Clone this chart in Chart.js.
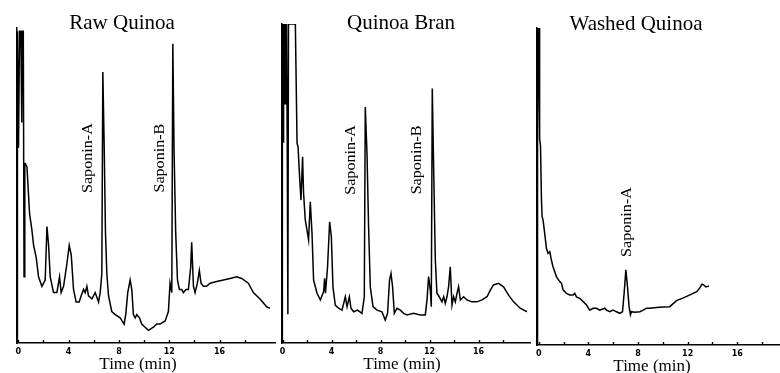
<!DOCTYPE html>
<html>
<head>
<meta charset="utf-8">
<title>Quinoa saponin chromatograms</title>
<script src="https://cdn.jsdelivr.net/npm/chart.js@4.4.1/dist/chart.umd.min.js"></script>
<style>
    body { margin: 0; background: #fff; }
    #wrap { position: relative; width: 780px; height: 373px; }
    #wrap canvas { position: absolute; left: 0; top: 0; }
</style>
</head>
<body>
<div id="wrap">
    <canvas id="rawChart" width="780" height="373"></canvas>
    <canvas id="branChart" width="780" height="373"></canvas>
    <canvas id="washedChart" width="780" height="373"></canvas>
</div>
<script>
// Tick values on the time axis (minutes), only every 4 min gets a label
var tickValues = [0, 2, 4, 6, 8, 10, 12, 14, 16, 18];
var tickLabels = ['0', '', '4', '', '8', '', '12', '', '16', ''];

// Raw Quinoa trace (time in min, detector response 0-100)
var rawTime = [-0.1, -0.09, -0.04, 0.02, 0.1, 0.2, 0.28, 0.32, 0.4, 0.46, 0.52, 0.56, 0.69, 0.9, 1.08, 1.22, 1.43, 1.61, 1.88, 2.14,
    2.28, 2.41, 2.54, 2.8, 3.07, 3.28, 3.41, 3.6, 3.86, 4.05, 4.21, 4.39, 4.6, 4.84, 5.0, 5.19, 5.32, 5.45, 5.58, 5.85,
    6.11, 6.38, 6.51, 6.64, 6.72, 6.83, 6.93, 7.04, 7.17, 7.43, 7.7, 8.1, 8.41, 8.54, 8.7, 8.89, 9.02, 9.15, 9.29, 9.42,
    9.63, 9.81, 10.08, 10.34, 10.74, 11.0, 11.27, 11.67, 11.93, 12.06, 12.2, 12.28, 12.38, 12.51, 12.65, 12.8, 12.99, 13.12, 13.33, 13.52,
    13.7, 13.78, 13.92, 14.05, 14.23, 14.39, 14.52, 14.71, 14.97, 15.24, 15.77, 16.3, 16.83, 17.35, 17.75, 18.28, 18.68, 19.21, 19.74, 20.0];
var rawSignal = [0, 99, 99, 62, 99, 99, 70, 99, 99, 21, 57, 57, 56, 41, 36, 31, 27, 21, 18, 20,
    37, 31, 21, 16, 16, 21, 16, 18, 25, 31, 28, 17, 13, 13, 15, 17, 16, 18, 15, 14,
    16, 13, 16, 22, 86, 62, 35, 22, 15, 10, 9, 8, 6, 9, 16, 20, 17, 9, 8, 9,
    8, 6, 5, 4, 5, 6, 6, 7, 10, 19, 16, 95, 61, 35, 20, 17, 17, 16, 17, 17,
    24, 32, 18, 16, 19, 23, 19, 18, 18, 19, 19.5, 20, 20.5, 21, 20.5, 19, 16, 14, 11.5, 11];

// Quinoa Bran trace
var branTime = [-0.05, -0.04, 0.0, 0.04, 0.08, 0.15, 0.2, 0.26, 0.32, 0.38, 0.43, 0.48, 1.04, 1.18, 1.26, 1.39, 1.5, 1.63, 1.71, 1.85,
    1.99, 2.12, 2.26, 2.4, 2.53, 2.81, 3.08, 3.35, 3.43, 3.5, 3.67, 3.84, 3.98, 4.11, 4.3, 4.57, 4.85, 5.12, 5.26, 5.45,
    5.58, 5.8, 6.12, 6.48, 6.67, 6.75, 6.89, 7.02, 7.16, 7.38, 7.71, 8.11, 8.38, 8.57, 8.73, 8.85, 8.98, 9.12, 9.34, 9.61,
    9.88, 10.16, 10.69, 11.24, 11.65, 11.79, 11.92, 12.06, 12.14, 12.22, 12.33, 12.47, 12.6, 12.79, 13.01, 13.15, 13.28, 13.42, 13.55, 13.69,
    13.83, 13.96, 14.1, 14.24, 14.37, 14.51, 14.78, 15.05, 15.46, 15.87, 16.28, 16.69, 16.96, 17.22, 17.63, 18.04, 18.45, 18.86, 19.4, 19.95];
var branSignal = [0, 100, 100, 63, 100, 100, 75, 100, 100, 60, 9, 100, 100, 62.6, 61.5, 52, 44.8, 58.4, 47, 38.6,
    35.4, 32.3, 44.3, 34.4, 19.7, 15.6, 13.5, 16.1, 20.3, 15.6, 23.9, 38, 33.3, 17.6, 11.9, 10.9, 10.3, 14.5, 11.4, 14.5,
    10.9, 9.8, 10.3, 9.3, 14.5, 74, 59.5, 36.5, 17.6, 11.4, 10.3, 9.8, 7.2, 9.3, 19.7, 21.8, 17.6, 9.3, 10.9, 10.3,
    9.3, 8.8, 9.3, 8.8, 8.8, 13.5, 20.8, 16.6, 11.4, 79.8, 55.3, 26, 15.6, 14.5, 12.9, 14.5, 12.4, 14.5, 17.6, 23.9,
    11.9, 14.5, 12.9, 15.6, 17.6, 13.5, 14.5, 13.5, 12.9, 12.9, 13.5, 14.5, 16.6, 18.2, 18.7, 17.6, 15, 12.9, 10.9, 9.8];

// Washed Quinoa trace
var washedTime = [-0.14, -0.13, -0.1, -0.06, -0.02, 0.03, 0.06, 0.08, 0.14, 0.22, 0.27, 0.35, 0.48, 0.62, 0.75, 0.89, 1.02, 1.15, 1.29, 1.43,
    1.69, 1.83, 1.96, 2.23, 2.5, 2.77, 2.9, 3.04, 3.31, 3.57, 3.85, 4.11, 4.38, 4.65, 4.92, 5.32, 5.46, 5.73, 5.99, 6.26,
    6.53, 6.75, 6.88, 7.02, 7.15, 7.28, 7.39, 7.47, 7.74, 8.15, 8.41, 8.68, 8.95, 9.49, 10.02, 10.56, 11.1, 11.61, 12.18, 12.74,
    12.98, 13.15, 13.31, 13.47, 13.71];
var washedSignal = [0, 100, 100, 66, 100, 100, 88, 65, 63, 45.7, 40.5, 39.4, 35.2, 30.5, 28.9, 29.4, 26.8, 24.7, 23.1, 21.5,
    20, 19.5, 17.4, 16.3, 15.8, 15.8, 16.3, 15.2, 14.7, 13.7, 12.6, 11, 11.6, 11.6, 11, 11.6, 11, 10.5, 11, 10.5,
    10, 10.5, 16.3, 23.7, 18.4, 12.1, 9.5, 10.5, 10.3, 10.5, 11, 11.6, 11.6, 11.8, 12, 12.1, 14, 14.8, 15.8, 16.8,
    18, 19.2, 18.9, 18.3, 18.6];

// Draws inward tick marks, the panel title, the axis title and the rotated peak names
var panelDecor = {
    id: 'panelDecor',
    afterDraw: function (chart, args, opts) {
        var ctx = chart.ctx;
        var x = chart.scales.x;
        var y = chart.scales.y;
        ctx.save();
        ctx.strokeStyle = '#000';
        ctx.lineWidth = 1.4;
        tickValues.forEach(function (v) {
            var px = Math.round(x.getPixelForValue(v)) + 0.5;
            ctx.beginPath();
            ctx.moveTo(px, y.bottom);
            ctx.lineTo(px, y.bottom - 3);
            ctx.stroke();
        });
        ctx.fillStyle = '#000';
        ctx.textAlign = 'center';
        ctx.textBaseline = 'alphabetic';
        ctx.font = '21px "Liberation Serif"';
        ctx.fillText(opts.title, opts.titleX, opts.titleY);
        ctx.font = '17px "Liberation Serif"';
        ctx.fillText('Time (min)', opts.axisTitleX, opts.axisTitleY);
        // peak names sit at a (time, response) spot and read bottom to top
        ctx.font = '14px "Liberation Serif"';
        ctx.textBaseline = 'middle';
        opts.peaks.forEach(function (p) {
            ctx.save();
            ctx.translate(x.getPixelForValue(p.t), y.getPixelForValue(p.v));
            ctx.rotate(-Math.PI / 2);
            ctx.scale(1.15, 1);
            ctx.fillText(p.text, 0, 0);
            ctx.restore();
        });
        ctx.restore();
    }
};

// Build one chromatogram panel on its own canvas
function makePanel(canvasId, time, signal, area, decor) {
    var points = time.map(function (t, i) { return { x: t, y: signal[i] }; });
    return new Chart(document.getElementById(canvasId), {
        type: 'line',
        data: {
            datasets: [{
                data: points,
                borderColor: '#000',
                borderWidth: 1.5,
                pointRadius: 0,
                tension: 0,
                fill: false
            }]
        },
        options: {
            responsive: false,
            animation: false,
            events: [],
            layout: { padding: { left: area.left, right: 780 - area.right, top: area.top, bottom: 0 } },
            plugins: {
                legend: { display: false },
                tooltip: { enabled: false },
                panelDecor: decor
            },
            scales: {
                x: {
                    type: 'linear',
                    min: area.min,
                    max: area.max,
                    afterBuildTicks: function (scale) {
                        scale.ticks = tickValues.map(function (v) { return { value: v }; });
                    },
                    afterFit: function (scale) { scale.height = 373 - area.bottom; },
                    ticks: {
                        autoSkip: false,
                        maxRotation: 0,
                        padding: 4,
                        color: '#000',
                        font: { family: 'DejaVu Sans', size: 8, weight: 'bold' },
                        callback: function (value, index) { return tickLabels[index]; }
                    },
                    grid: { display: false, drawTicks: false },
                    border: { display: true, color: '#000', width: 1.5 }
                },
                y: {
                    min: 0,
                    max: 100,
                    afterFit: function (scale) { scale.width = 0; },
                    ticks: { display: false },
                    grid: { display: false, drawTicks: false },
                    border: { display: true, color: '#000', width: 1.5 }
                }
            }
        },
        plugins: [panelDecor]
    });
}

makePanel('rawChart', rawTime, rawSignal,
    { left: 17, right: 275, top: 28, bottom: 343, min: -0.1, max: 20.4 },
    { title: 'Raw Quinoa', titleX: 122, titleY: 29, axisTitleX: 138, axisTitleY: 369,
      peaks: [{ text: 'Saponin-A', t: 5.56, v: 58.7 }, { text: 'Saponin-B', t: 11.27, v: 58.7 }] });

makePanel('branChart', branTime, branSignal,
    { left: 282, right: 530, top: 24, bottom: 343, min: -0.05, max: 20.2 },
    { title: 'Quinoa Bran', titleX: 401, titleY: 29, axisTitleX: 402, axisTitleY: 369,
      peaks: [{ text: 'Saponin-A', t: 5.61, v: 57.4 }, { text: 'Saponin-B', t: 11.0, v: 57.4 }] });

makePanel('washedChart', washedTime, washedSignal,
    { left: 537, right: 780, top: 28, bottom: 345, min: -0.14, max: 19.44 },
    { title: 'Washed Quinoa', titleX: 636, titleY: 30, axisTitleX: 652, axisTitleY: 371,
      peaks: [{ text: 'Saponin-A', t: 7.1, v: 38.8 }] });
</script>
</body>
</html>
